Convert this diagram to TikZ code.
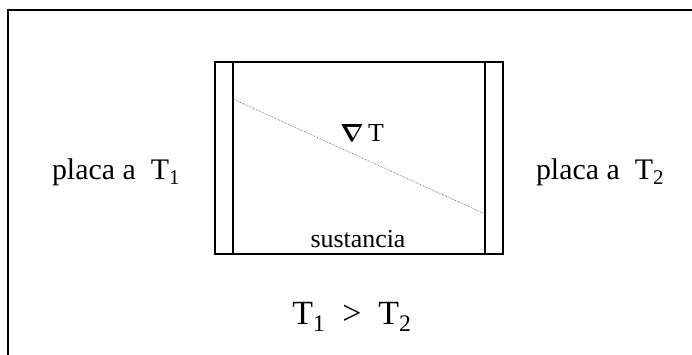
\documentclass[tikz,border=0pt]{standalone}
\usepackage{fontspec}
\setmainfont{Liberation Serif}
\usepackage{amsmath}
\usetikzlibrary{positioning, calc}

\begin{document}
\begin{tikzpicture}[x=1bp, y=-1bp,
    frame/.style={draw=black, line width=2bp},
    plate/.style={rectangle, draw=black, line width=2.5bp, outer sep=0pt, minimum width=18bp, minimum height=192bp, inner sep=0pt},
    medium/.style={rectangle, draw=black, line width=2.5bp, outer sep=0pt, minimum width=252bp, minimum height=192bp, inner sep=0pt},
    lbl/.style={font=\fontsize{30}{36}\selectfont, inner sep=0pt},
    small/.style={font=\fontsize{26}{31}\selectfont, inner sep=0pt},
    big/.style={font=\fontsize{34}{40}\selectfont, inner sep=0pt},
    grad/.style={densely dotted, line width=0.6bp, black!70}]
\useasboundingbox (0,0) rectangle (692,354);
\clip (0,0) rectangle (692,354);
% marco
\draw[frame] (8,10) rectangle (720,380);
% placas y sustancia
\node[medium] (sust) at (359,158) {};
\node[plate, left=0pt of sust] (plL) {};
\node[plate, right=0pt of sust] (plR) {};
% gradiente
\coordinate (gA) at ([yshift=-37bp]sust.north west);
\coordinate (gB) at ([yshift=40bp]sust.south east);
\draw[grad] (gA) -- (gB);
% textos
\node[small] (nabla) at (362,133) {$\boldsymbol{\nabla}$\,T};
\node[small] (sname) at (358,239) {sustancia};
\node[lbl] (lblL) at (116,172) {placa a\ \ T\textsubscript{1}};
\node[lbl] (lblR) at (600,172) {placa a\ \ T\textsubscript{2}};
\node[big] (cmp) at (352,317) {T\textsubscript{1}\ \ >\ \ T\textsubscript{2}};
\end{tikzpicture}
\end{document}
